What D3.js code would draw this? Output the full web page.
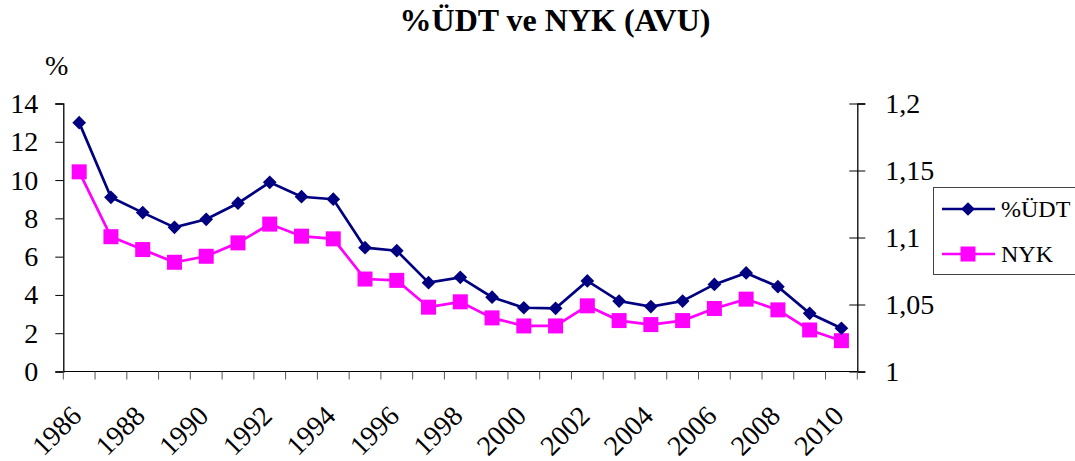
<!DOCTYPE html>
<html>
<head>
<meta charset="utf-8">
<script src="https://cdn.jsdelivr.net/npm/d3@7"></script>
<style>
  body { margin: 0; background: #fff; }
  text { font-family: "Liberation Serif", "Times New Roman", serif; fill: #000; }
</style>
</head>
<body>
<div id="chart"></div>
<script>
const years = d3.range(1986, 2011);
// %ÜDT, left axis
const udt = [13.0, 9.1, 8.3, 7.53, 7.95, 8.79, 9.88, 9.13, 9.0, 6.47, 6.31, 4.64, 4.92, 3.88, 3.33, 3.3, 4.73, 3.68, 3.39, 3.68, 4.55, 5.15, 4.43, 3.04, 2.26];
// NYK, right axis
const nyk = [1.149, 1.1006, 1.091, 1.0815, 1.086, 1.096, 1.11, 1.101, 1.099, 1.069, 1.068, 1.048, 1.052, 1.04, 1.034, 1.034, 1.049, 1.038, 1.035, 1.038, 1.047, 1.054, 1.046, 1.031, 1.023];
const leftTicks = [0, 2, 4, 6, 8, 10, 12, 14];
const rightTicks = [1, 1.05, 1.1, 1.15, 1.2];

const width = 1075, height = 461;
const plotL = 63.3, plotR = 857.3, plotT = 103.5, plotB = 371.5;

const svg = d3.select("#chart").append("svg")
  .attr("width", width)
  .attr("height", height);

const x = d3.scaleBand().domain(years).range([plotL, plotR]).padding(0);
const yL = d3.scaleLinear().domain([0, 14]).range([plotB, plotT]);
const yR = d3.scaleLinear().domain([1, 1.2]).range([plotB, plotT]);

const comma = d3.formatLocale({decimal: ",", thousands: ".", grouping: [3], currency: ["", ""]});

// title
svg.append("text")
  .attr("x", 555).attr("y", 31)
  .attr("text-anchor", "middle")
  .style("font-size", "32px").style("font-weight", "bold")
  .text("%ÜDT ve NYK (AVU)");

svg.append("text")
  .attr("x", 45).attr("y", 75)
  .style("font-size", "28px")
  .text("%");

// left axis
const gL = svg.append("g")
  .attr("transform", `translate(${plotL},0)`)
  .call(d3.axisLeft(yL).tickValues(leftTicks).tickSize(8).tickPadding(17).tickFormat(d3.format("d")));

// right axis, ticks cross the line
const gR = svg.append("g")
  .attr("transform", `translate(${plotR},0)`)
  .call(d3.axisRight(yR).tickValues(rightTicks).tickSize(8).tickPadding(20)
    .tickFormat(d => comma.format("~g")(d)));
gR.selectAll(".tick line").attr("x1", -8);

// x axis
const xTicks = years.map(d => x(d)).concat([plotR]);
const gX = svg.append("g");
gX.append("line")
  .attr("x1", plotL).attr("x2", plotR)
  .attr("y1", plotB).attr("y2", plotB)
  .attr("stroke", "#000");
gX.selectAll("line.tk")
  .data(xTicks)
  .enter().append("line")
  .attr("class", "tk")
  .attr("x1", d => d).attr("x2", d => d)
  .attr("y1", plotB).attr("y2", plotB + 8)
  .attr("stroke", "#555");

gX.selectAll("text")
  .data(years.filter((d, i) => i % 2 === 0))
  .enter().append("text")
  .attr("transform", d => `translate(${x(d) + x.bandwidth() / 2 + 4},${plotB + 46}) rotate(-45)`)
  .attr("text-anchor", "end")
  .style("font-size", "28px")
  .text(d => d);

[gL, gR].forEach(g => {
  g.select(".domain").attr("stroke", "#000").attr("stroke-width", 1.3);
  g.selectAll(".tick line").attr("stroke", "#000");
  g.selectAll(".tick text")
    .style("font-family", "'Liberation Serif', 'Times New Roman', serif")
    .style("font-size", "28px")
    .attr("fill", "#000");
});

const cx = d => x(d) + x.bandwidth() / 2;

// NYK series
svg.append("path")
  .datum(nyk)
  .attr("fill", "none")
  .attr("stroke", "#ff00ff")
  .attr("stroke-width", 2.7)
  .attr("d", d3.line().x((d, i) => cx(years[i])).y(d => yR(d)));

svg.selectAll("rect.nyk")
  .data(nyk)
  .enter().append("rect")
  .attr("class", "nyk")
  .attr("x", (d, i) => cx(years[i]) - 7.5)
  .attr("y", d => yR(d) - 7.5)
  .attr("width", 15).attr("height", 15)
  .attr("fill", "#ff00ff");

// %ÜDT series
svg.append("path")
  .datum(udt)
  .attr("fill", "none")
  .attr("stroke", "#000080")
  .attr("stroke-width", 2.7)
  .attr("d", d3.line().x((d, i) => cx(years[i])).y(d => yL(d)));

const diamond = d3.symbol().type(d3.symbolDiamond2).size(120);
svg.selectAll("path.udt")
  .data(udt)
  .enter().append("path")
  .attr("class", "udt")
  .attr("transform", (d, i) => `translate(${cx(years[i])},${yL(d)})`)
  .attr("d", diamond)
  .attr("fill", "#000080");

// legend
const lg = svg.append("g").attr("id", "legend");
lg.append("rect")
  .attr("x", 933.5).attr("y", 187.5)
  .attr("width", 150).attr("height", 87)
  .attr("fill", "#fff").attr("stroke", "#444");

const items = [
  {name: "%ÜDT", color: "#000080", type: "diamond"},
  {name: "NYK", color: "#ff00ff", type: "square"}
];
items.forEach((it, i) => {
  const yy = 209 + i * 45;
  lg.append("line")
    .attr("x1", 942).attr("x2", 995)
    .attr("y1", yy).attr("y2", yy)
    .attr("stroke", it.color).attr("stroke-width", 2.5);
  if (it.type === "diamond") {
    lg.append("path")
      .attr("transform", `translate(968,${yy})`)
      .attr("d", diamond)
      .attr("fill", it.color);
  } else {
    lg.append("rect")
      .attr("x", 960.5).attr("y", yy - 7.5)
      .attr("width", 15).attr("height", 15)
      .attr("fill", it.color);
  }
  lg.append("text")
    .attr("x", 1001).attr("y", yy + 8)
    .style("font-size", "24px")
    .text(it.name);
});
</script>
</body>
</html>
